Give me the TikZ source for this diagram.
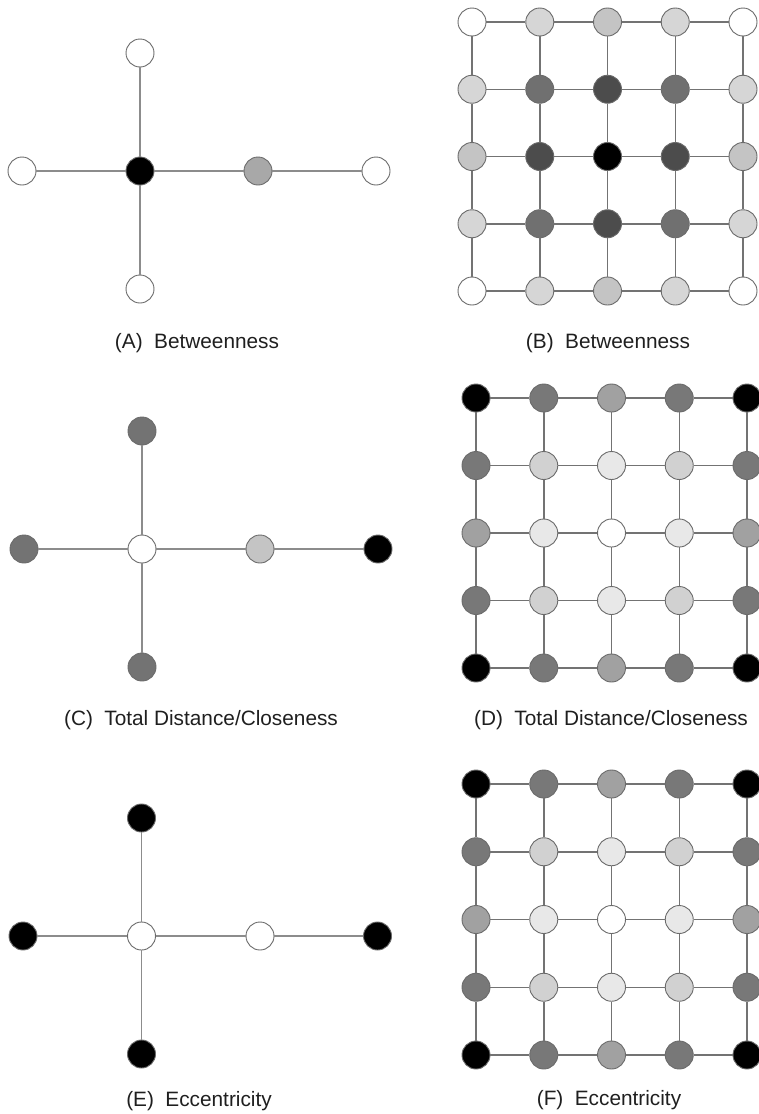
\documentclass[tikz,border=0pt]{standalone}
\usepackage{fontspec}
\setmainfont{Liberation Sans}
\definecolor{edgestar}{gray}{0.55}
\definecolor{edgegrid}{gray}{0.45}
\definecolor{rim}{gray}{0.42}
\definecolor{txt}{gray}{0.12}
% betweenness grid shades
\definecolor{bl}{gray}{0.84}
\definecolor{bm}{gray}{0.77}
\definecolor{bd}{gray}{0.44}
\definecolor{bdd}{gray}{0.30}
% closeness / eccentricity grid shades
\definecolor{ck}{gray}{0.0}
\definecolor{cd}{gray}{0.47}
\definecolor{cm}{gray}{0.63}
\definecolor{cl}{gray}{0.82}
\definecolor{cv}{gray}{0.91}
% star shades
\definecolor{sa}{gray}{0.66}
\definecolor{sd}{gray}{0.45}
\definecolor{sl}{gray}{0.77}
\tikzset{
  vert/.style={circle, draw=rim, line width=0.9pt, minimum size=28pt, inner sep=0pt},
  staredge/.style={draw=edgestar, line width=1.1pt},
  gridedge/.style={draw=edgegrid, line width=1.5pt},
  lab/.style={anchor=base, text=txt, font=\fontsize{20.8}{24}\selectfont, inner sep=0pt}
}
\begin{document}
\begin{tikzpicture}[x=1pt,y=-1pt]
\useasboundingbox (0,0) rectangle (759,1114);

% ---------- (A) star, betweenness ----------
\node[vert, fill=white] (At) at (140,53) {};
\node[vert, fill=white] (Al) at (22,171) {};
\node[vert, fill=black] (Ac) at (140,171) {};
\node[vert, fill=sa]    (Ag) at (258,171) {};
\node[vert, fill=white] (Ar) at (376,171) {};
\node[vert, fill=white] (Ab) at (140,289) {};
\draw[staredge] (At) -- (Ac);
\draw[staredge] (Ac) -- (Ab);
\draw[staredge] (Al) -- (Ac);
\draw[staredge] (Ac) -- (Ag);
\draw[staredge] (Ag) -- (Ar);
\node[lab] (labA) at (197,348) {(A)\hspace{0.55em}Betweenness};

% ---------- (C) star, closeness ----------
\node[vert, fill=sd]    (Ct) at (142,431) {};
\node[vert, fill=sd]    (Cl) at (24,549) {};
\node[vert, fill=white] (Cc) at (142,549) {};
\node[vert, fill=sl]    (Cg) at (260,549) {};
\node[vert, fill=black] (Cr) at (378,549) {};
\node[vert, fill=sd]    (Cb) at (142,667) {};
\draw[staredge] (Ct) -- (Cc);
\draw[staredge] (Cc) -- (Cb);
\draw[staredge] (Cl) -- (Cc);
\draw[staredge] (Cc) -- (Cg);
\draw[staredge] (Cg) -- (Cr);
\node[lab] (labC) at (201,725) {(C)\hspace{0.55em}Total Distance/Closeness};

% ---------- (E) star, eccentricity ----------
\node[vert, fill=black] (Et) at (141.5,818) {};
\node[vert, fill=black] (El) at (23,936) {};
\node[vert, fill=white] (Ec) at (141.5,936) {};
\node[vert, fill=white] (Eg) at (260,936) {};
\node[vert, fill=black] (Er) at (377.5,936) {};
\node[vert, fill=black] (Eb) at (141.5,1054) {};
\draw[staredge] (Et) -- (Ec);
\draw[staredge] (Ec) -- (Eb);
\draw[staredge] (El) -- (Ec);
\draw[staredge] (Ec) -- (Eg);
\draw[staredge] (Eg) -- (Er);
\node[lab] (labE) at (199,1106) {(E)\hspace{0.55em}Eccentricity};

% ---------- (B) grid, betweenness ----------
\foreach \c [count=\k from 0] in {white,bl,bm,bl,white,
                                  bl,bd,bdd,bd,bl,
                                  bm,bdd,black,bdd,bm,
                                  bl,bd,bdd,bd,bl,
                                  white,bl,bm,bl,white}{
  \pgfmathtruncatemacro\ii{mod(\k,5)}
  \pgfmathtruncatemacro\jj{div(\k,5)}
  \node[vert, fill=\c] (B-\ii-\jj) at ({472+\ii*67.75},{22+\jj*67.25}) {};
}
\foreach \i in {0,...,4}{
  \foreach \j [evaluate=\j as \jn using int(\j+1)] in {0,...,3}{
    \draw[gridedge] (B-\i-\j) -- (B-\i-\jn);
    \draw[gridedge] (B-\j-\i) -- (B-\jn-\i);
  }
}
\node[lab] (labB) at (608,348) {(B)\hspace{0.55em}Betweenness};

% ---------- (D) grid, closeness ----------
\foreach \c [count=\k from 0] in {ck,cd,cm,cd,ck,
                                  cd,cl,cv,cl,cd,
                                  cm,cv,white,cv,cm,
                                  cd,cl,cv,cl,cd,
                                  ck,cd,cm,cd,ck}{
  \pgfmathtruncatemacro\ii{mod(\k,5)}
  \pgfmathtruncatemacro\jj{div(\k,5)}
  \node[vert, fill=\c] (D-\ii-\jj) at ({476+\ii*67.75},{398+\jj*67.5}) {};
}
\foreach \i in {0,...,4}{
  \foreach \j [evaluate=\j as \jn using int(\j+1)] in {0,...,3}{
    \draw[gridedge] (D-\i-\j) -- (D-\i-\jn);
    \draw[gridedge] (D-\j-\i) -- (D-\jn-\i);
  }
}
\node[lab] (labD) at (611,725) {(D)\hspace{0.55em}Total Distance/Closeness};

% ---------- (F) grid, eccentricity ----------
\foreach \c [count=\k from 0] in {ck,cd,cm,cd,ck,
                                  cd,cl,cv,cl,cd,
                                  cm,cv,white,cv,cm,
                                  cd,cl,cv,cl,cd,
                                  ck,cd,cm,cd,ck}{
  \pgfmathtruncatemacro\ii{mod(\k,5)}
  \pgfmathtruncatemacro\jj{div(\k,5)}
  \node[vert, fill=\c] (F-\ii-\jj) at ({476+\ii*67.75},{784+\jj*67.75}) {};
}
\foreach \i in {0,...,4}{
  \foreach \j [evaluate=\j as \jn using int(\j+1)] in {0,...,3}{
    \draw[gridedge] (F-\i-\j) -- (F-\i-\jn);
    \draw[gridedge] (F-\j-\i) -- (F-\jn-\i);
  }
}
\node[lab] (labF) at (609,1105) {(F)\hspace{0.55em}Eccentricity};
\end{tikzpicture}
\end{document}
